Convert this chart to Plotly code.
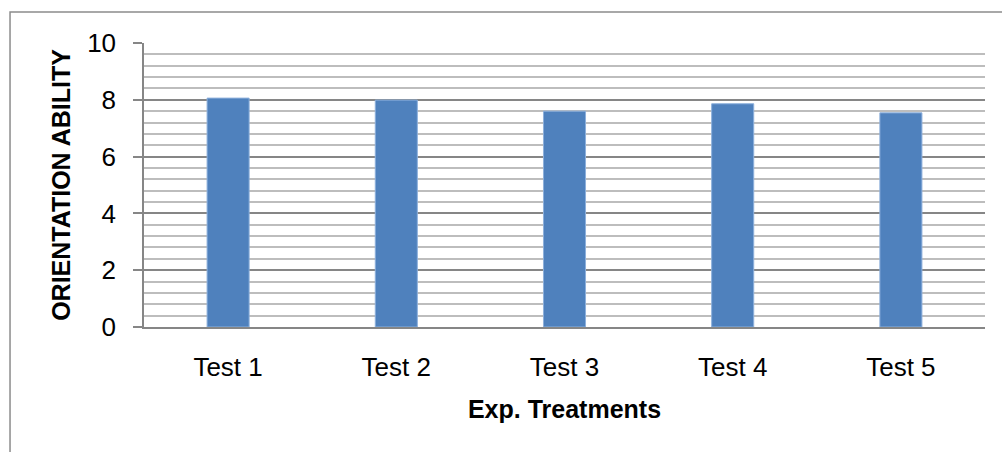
import plotly.graph_objects as go

# Orientation ability per experimental treatment
treatments = ["Test 1", "Test 2", "Test 3", "Test 4", "Test 5"]
orientation_ability = [8.06, 7.99, 7.60, 7.86, 7.54]

y_ticks = [0, 2, 4, 6, 8, 10]

FONT = "Liberation Sans, Arial, sans-serif"

fig = go.Figure()

fig.add_trace(go.Bar(
    x=treatments,
    y=orientation_ability,
    width=0.25,
    marker=dict(color="#4F81BD", line=dict(color="#8DB0DC", width=1)),
    showlegend=False,
    hoverinfo="x+y",
))

fig.update_layout(
    width=1002,
    height=452,
    margin=dict(l=144, r=17, t=43, b=125),
    paper_bgcolor="white",
    plot_bgcolor="white",
    font=dict(family=FONT, size=26, color="#000000"),
    bargap=0.75,
    xaxis=dict(
        showgrid=False,
        showline=True,
        linecolor="#868686",
        linewidth=1.5,
        ticks="",
        tickfont=dict(size=26),
        ticklabelstandoff=16,
        title=dict(text="<b>Exp. Treatments</b>", font=dict(size=25), standoff=20),
        zeroline=False,
    ),
    yaxis=dict(
        range=[0, 10],
        tickvals=y_ticks,
        ticktext=[str(v) for v in y_ticks],
        showgrid=True,
        gridcolor="#868686",
        gridwidth=1.5,
        showline=True,
        linecolor="#868686",
        linewidth=1.5,
        ticks="outside",
        ticklen=9,
        tickcolor="#868686",
        tickwidth=1.5,
        tickfont=dict(size=26),
        ticklabelstandoff=12,
        zeroline=False,
        minor=dict(dtick=0.4, showgrid=True, gridcolor="#BDBDBD", gridwidth=1.5, ticks=""),
        title=dict(text="<b>ORIENTATION ABILITY</b>", font=dict(size=25), standoff=9),
    ),
    shapes=[
        # outer chart frame
        dict(type="rect", xref="paper", yref="paper",
             x0=-0.1593, x1=1.05, y0=-0.6, y1=1.109,
             line=dict(color="#8C8C8C", width=1.5), fillcolor="rgba(0,0,0,0)",
             layer="below"),
    ],
)

fig.write_html("out.html")
